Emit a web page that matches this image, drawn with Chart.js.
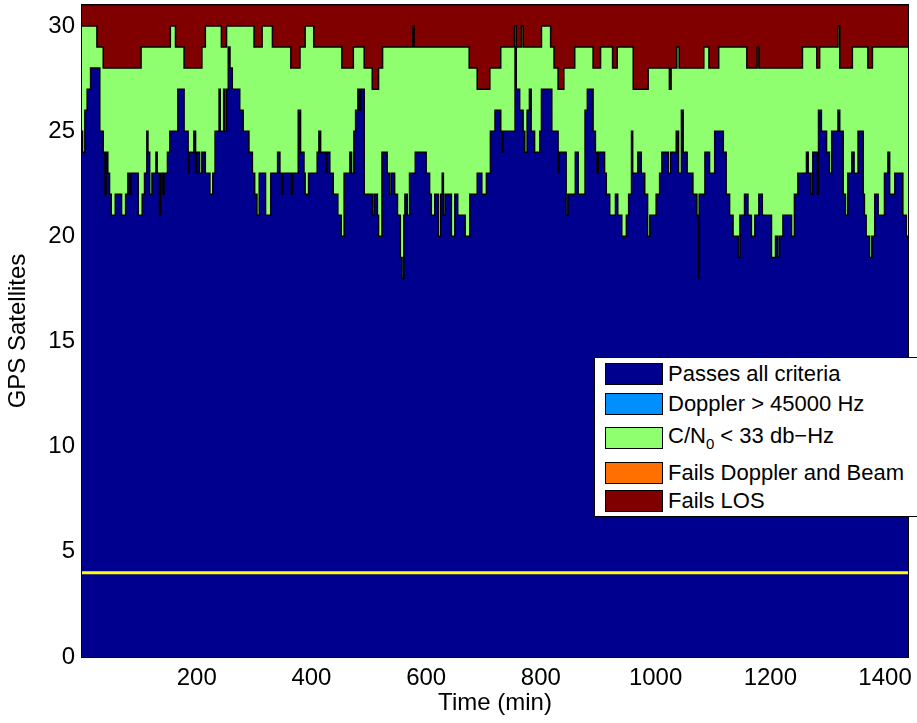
<!DOCTYPE html>
<html lang="en">
<head>
    <meta charset="UTF-8">
    <title>GPS Satellites vs Time</title>
    <script src="https://cdn.jsdelivr.net/npm/chart.js"></script>
    <style>
        body {
            margin: 0;
            background: #fff;
            overflow: hidden;
            font-family: 'Liberation Sans', Arial, sans-serif;
        }
        .wrap {
            position: relative;
            width: 917px;
            height: 723px;
            overflow: hidden;
        }
        #legend {
            position: absolute;
            left: 594px;
            top: 357px;
            width: 340px;
            height: 160px;
            background: #fff;
            border: 1px solid #000;
            box-sizing: border-box;
        }
        .sw {
            position: absolute;
            left: 10px;
            width: 58px;
            height: 22px;
            border: 1px solid #000;
            box-sizing: border-box;
        }
        .lb {
            position: absolute;
            left: 73px;
            height: 22px;
            line-height: 22px;
            font-size: 22px;
            color: #000;
            white-space: nowrap;
        }
        .lb sub { font-size: 15px; vertical-align: -6px; line-height: 0; }
    </style>
</head>
<body>
    <div class="wrap">
        <canvas id="satChart" width="917" height="723"></canvas>
        <div id="legend"></div>
    </div>

    <script>
        // tick labels
        const xTicks = [200, 400, 600, 800, 1000, 1200, 1400];
        const yTicks = [0, 5, 10, 15, 20, 25, 30];
        const timeRange = [0, 1440];
        const totalSats = 31;
        const minSats = 4;

        // [minute, satellites], each level holds until the next entry
        // top of the "C/N0 < 33" band (passes + low C/N0)
        const cn0Top = [
            [0,30],[26,29],[37,28],[103,29],[154,30],[163,29],[178,28],[209,29],[215,30],[243,29],
            [252,30],[300,29],[314,30],[332,29],[364,28],[380,29],[389,30],[404,29],[453,28],[473,29],
            [492,28],[506,27],[517,28],[524,29],[577,30],[579,29],[675,28],[689,27],[711,28],[730,29],
            [754,30],[757,29],[766,30],[769,29],[801,30],[817,29],[823,28],[830,27],[840,28],[859,29],
            [891,28],[904,29],[925,28],[933,29],[961,27],[987,28],[1024,27],[1027,28],[1037,29],[1041,28],
            [1084,29],[1093,28],[1110,29],[1159,28],[1177,29],[1180,28],[1256,29],[1281,28],[1286,29],[1318,30],
            [1321,28],[1343,29],[1370,28],[1378,29],[1440,29]
        ];

        // satellites passing all criteria
        const passesAll = [
            [0,25],[1,24],[5,26],[9,27],[15,28],[31,25],[37,24],[40,22],[42,24],[45,23],
            [48,22],[51,21],[58,22],[69,21],[76,22],[80,23],[84,22],[86,23],[98,21],[105,22],
            [109,23],[113,25],[115,24],[118,22],[122,23],[129,24],[131,23],[135,21],[137,23],[141,22],
            [143,23],[149,24],[153,25],[167,27],[178,25],[185,23],[187,24],[195,25],[198,23],[200,24],
            [205,23],[209,24],[215,23],[223,22],[228,23],[232,25],[239,27],[241,25],[247,27],[249,25],
            [252,27],[255,29],[258,28],[262,27],[275,26],[281,25],[291,24],[297,23],[301,22],[305,21],
            [309,23],[320,21],[329,23],[341,24],[345,23],[348,22],[350,23],[365,22],[367,23],[377,26],
            [381,24],[387,23],[389,22],[395,23],[410,24],[413,25],[416,24],[425,23],[427,24],[432,23],
            [438,22],[446,21],[452,20],[457,23],[467,24],[470,23],[474,25],[477,26],[481,27],[484,26],
            [486,27],[492,22],[506,21],[509,22],[515,21],[517,20],[523,24],[532,23],[536,22],[539,23],
            [545,22],[550,21],[555,19],[558,18],[561,21],[563,22],[567,21],[571,23],[581,24],[600,23],
            [606,22],[609,21],[615,22],[621,20],[625,22],[628,23],[630,21],[633,22],[644,20],[650,22],
            [655,21],[668,20],[676,22],[689,23],[697,22],[705,23],[712,25],[720,26],[730,25],[732,24],
            [734,25],[755,29],[757,27],[763,26],[769,25],[772,24],[776,26],[780,27],[783,25],[789,24],
            [798,25],[801,27],[819,25],[830,23],[832,24],[844,21],[847,22],[860,24],[865,22],[877,26],
            [881,27],[891,25],[895,24],[898,23],[900,24],[911,23],[914,22],[920,21],[930,22],[934,21],
            [941,20],[949,21],[953,22],[958,25],[960,23],[969,24],[975,23],[981,22],[986,20],[990,21],
            [1001,22],[1007,23],[1011,24],[1022,23],[1026,24],[1036,25],[1040,23],[1045,26],[1048,24],[1055,23],
            [1065,22],[1072,21],[1074,18],[1076,22],[1086,24],[1094,23],[1103,25],[1118,24],[1123,22],[1129,21],
            [1135,20],[1144,19],[1147,21],[1155,22],[1161,21],[1167,20],[1173,21],[1180,22],[1186,21],[1202,19],
            [1209,20],[1213,19],[1216,20],[1222,21],[1237,20],[1242,22],[1248,23],[1263,24],[1266,23],[1271,22],
            [1274,24],[1282,22],[1284,26],[1289,25],[1298,24],[1303,23],[1307,25],[1318,26],[1321,25],[1327,22],
            [1331,21],[1335,23],[1342,24],[1346,23],[1353,25],[1362,22],[1364,21],[1367,20],[1373,19],[1377,20],
            [1382,22],[1388,21],[1399,23],[1405,24],[1408,22],[1417,23],[1431,21],[1437,20],[1440,20]
        ];

        const legendLabels = ['Passes all criteria', 'Doppler > 45000 Hz', 'C/N<sub>0</sub> &lt; 33 db\u2212Hz', 'Fails Doppler and Beam', 'Fails LOS'];
        const legendColors = ['#00008f', '#008fff', '#8fff70', '#ff7000', '#800000'];
        const legendRows = [5, 35, 69, 104, 132];

        const legend = document.getElementById('legend');
        legendLabels.forEach((text, i) => {
            const sw = document.createElement('div');
            sw.className = 'sw';
            sw.style.top = legendRows[i] + 'px';
            sw.style.background = legendColors[i];
            legend.appendChild(sw);
            const lb = document.createElement('div');
            lb.className = 'lb';
            lb.style.top = (legendRows[i] - (i === 2 ? 2 : 0)) + 'px';
            lb.innerHTML = text;
            legend.appendChild(lb);
        });

        const toPoints = arr => arr.map(p => ({ x: p[0], y: p[1] }));
        const flat = v => timeRange.map(t => ({ x: t, y: v }));

        const frame = {
            id: 'frame',
            afterDraw(chart) {
                const { ctx, chartArea: a } = chart;
                ctx.save();
                ctx.strokeStyle = '#000';
                ctx.lineWidth = 1;
                ctx.strokeRect(a.left - 0.5, a.top - 0.5, a.right - a.left + 1, a.bottom - a.top + 1);
                ctx.restore();
            }
        };

        Chart.defaults.font.family = "'Liberation Sans', Arial, sans-serif";
        Chart.defaults.color = '#000';

        const ctx = document.getElementById('satChart').getContext('2d');
        new Chart(ctx, {
            type: 'line',
            data: {
                datasets: [
                    { label: 'Minimum', data: flat(minSats), borderColor: '#ffff00', borderWidth: 3, fill: false, order: 0 },
                    { label: 'Passes all criteria', data: toPoints(passesAll), stepped: true, borderColor: '#000', borderWidth: 1.5, backgroundColor: '#00008f', fill: 'origin', order: 1 },
                    { label: 'C/N0 < 33 db-Hz', data: toPoints(cn0Top), stepped: true, borderColor: '#000', borderWidth: 1.5, backgroundColor: '#8fff70', fill: 'origin', order: 2 },
                    { label: 'Fails LOS', data: flat(totalSats), borderColor: '#000', borderWidth: 1, backgroundColor: '#800000', fill: 'origin', order: 3 }
                ]
            },
            options: {
                responsive: false,
                animation: false,
                devicePixelRatio: 1,
                layout: { padding: { top: 5, right: 9, left: 0, bottom: 0 } },
                elements: { point: { radius: 0 }, line: { tension: 0 } },
                plugins: { legend: { display: false }, tooltip: { enabled: false } },
                scales: {
                    x: {
                        type: 'linear',
                        min: timeRange[0],
                        max: timeRange[1],
                        grid: { display: false, drawTicks: false },
                        border: { display: false },
                        afterBuildTicks: s => { s.ticks = xTicks.map(v => ({ value: v })); },
                        afterFit: s => { s.height = 66; s.paddingLeft = 0; s.paddingRight = 0; },
                        ticks: { font: { size: 24 }, padding: 7, maxRotation: 0, callback: v => String(v) },
                        title: { display: true, text: 'Time (min)', font: { size: 24 }, padding: { top: 0, bottom: 5 } }
                    },
                    y: {
                        min: 0,
                        max: totalSats,
                        grid: { display: false, drawTicks: false },
                        border: { display: false },
                        afterBuildTicks: s => { s.ticks = yTicks.map(v => ({ value: v })); },
                        afterFit: s => { s.width = 82; s.paddingTop = 0; s.paddingBottom = 0; },
                        ticks: { font: { size: 24 }, padding: 7, callback: v => String(v) },
                        title: { display: true, text: 'GPS Satellites', font: { size: 24 }, padding: { top: 4, bottom: 0 } }
                    }
                }
            },
            plugins: [frame]
        });
    </script>
</body>
</html>
